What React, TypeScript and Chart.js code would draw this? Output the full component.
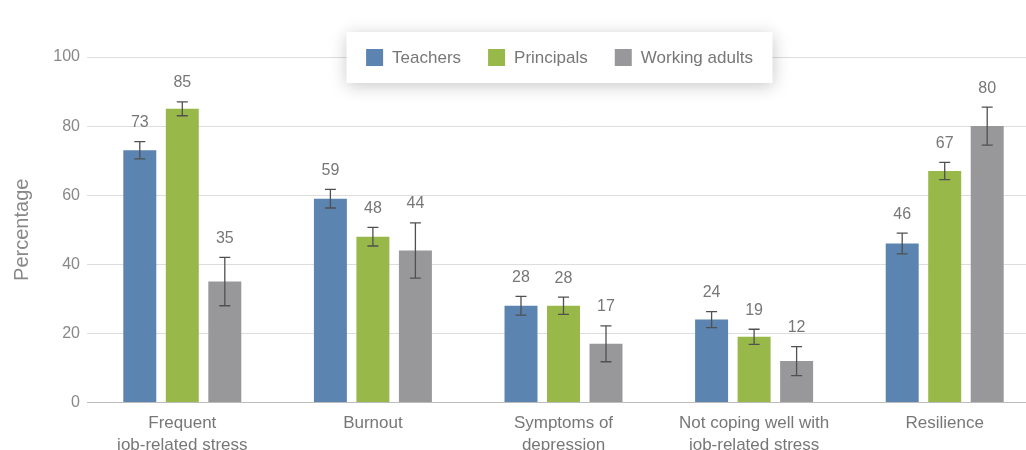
import React, { useEffect, useRef } from "react";
import { Chart, registerables } from "chart.js";
Chart.register(...registerables);

const categories = [
  ["Frequent", "job-related stress"],
  "Burnout",
  ["Symptoms of", "depression"],
  ["Not coping well with", "job-related stress"],
  "Resilience",
];
const seriesNames = ["Teachers", "Principals", "Working adults"];
const teachers = [73, 59, 28, 24, 46];
const principals = [85, 48, 28, 19, 67];
const workingAdults = [35, 44, 17, 12, 80];
const teachersErr = [2.5, 2.7, 2.7, 2.3, 3];
const principalsErr = [2, 2.7, 2.5, 2.2, 2.5];
const workingAdultsErr = [7, 8, 5.2, 4.2, 5.5];
const seriesColors = ["#5b84b1", "#99b84a", "#98989b"];
const yTitle = "Percentage";

const FONT = '"Liberation Sans", Arial, Helvetica, sans-serif';

const errorPlugin = {
  id: "errorBarsLabels",
  afterDatasetsDraw(chart: any) {
    const ctx = chart.ctx;
    const y = chart.scales.y;
    ctx.save();
    chart.data.datasets.forEach((ds: any, di: number) => {
      const meta = chart.getDatasetMeta(di);
      meta.data.forEach((bar: any, i: number) => {
        const v = ds.data[i];
        const e = ds.errors[i];
        const top = y.getPixelForValue(v + e);
        const bot = y.getPixelForValue(v - e);
        const x = bar.x;
        ctx.strokeStyle = "#505050";
        ctx.lineWidth = 1.3;
        ctx.beginPath();
        ctx.moveTo(x, top);
        ctx.lineTo(x, bot);
        ctx.moveTo(x - 5.5, top);
        ctx.lineTo(x + 5.5, top);
        ctx.moveTo(x - 5.5, bot);
        ctx.lineTo(x + 5.5, bot);
        ctx.stroke();
        ctx.fillStyle = "#777";
        ctx.font = "16px " + FONT;
        ctx.textAlign = "center";
        ctx.textBaseline = "middle";
        ctx.fillText(String(v), x, top - 19);
      });
    });
    ctx.restore();
  },
};

const legendPlugin = {
  id: "boxLegend",
  afterDraw(chart: any) {
    const ctx = chart.ctx;
    const area = chart.chartArea;
    ctx.save();
    ctx.font = "17px " + FONT;
    const sq = 17;
    const gapText = 9;
    const gapItem = 27;
    const dsets = chart.data.datasets;
    const widths = dsets.map((d: any) => ctx.measureText(d.label).width);
    let total = 0;
    widths.forEach((w: number, i: number) => {
      total += sq + gapText + w + (i > 0 ? gapItem : 0);
    });
    const cx = (area.left + area.right) / 2 - 4;
    const cy = area.top + 0.5;
    const bw = 426;
    const bh = 51;
    ctx.shadowColor = "rgba(0,0,0,0.22)";
    ctx.shadowBlur = 16;
    ctx.shadowOffsetY = 3;
    ctx.fillStyle = "#fff";
    ctx.fillRect(cx - bw / 2, cy - bh / 2, bw, bh);
    ctx.shadowColor = "transparent";
    ctx.shadowBlur = 0;
    ctx.shadowOffsetY = 0;
    let x = cx - total / 2;
    dsets.forEach((d: any, i: number) => {
      ctx.fillStyle = d.backgroundColor;
      ctx.fillRect(x, cy - sq / 2, sq, sq);
      x += sq + gapText;
      ctx.fillStyle = "#777";
      ctx.textAlign = "left";
      ctx.textBaseline = "middle";
      ctx.fillText(d.label, x, cy + 1);
      x += widths[i] + gapItem;
    });
    ctx.restore();
  },
};

export default function App() {
  const ref = useRef<HTMLCanvasElement>(null);
  useEffect(() => {
    const series = [teachers, principals, workingAdults];
    const errs = [teachersErr, principalsErr, workingAdultsErr];
    const chart = new Chart(ref.current as HTMLCanvasElement, {
      type: "bar",
      data: {
        labels: categories,
        datasets: seriesNames.map((name, i) => ({
          label: name,
          data: series[i],
          errors: errs[i],
          backgroundColor: seriesColors[i],
          borderWidth: 0,
          categoryPercentage: 0.669,
          barPercentage: 0.776,
        })) as any,
      },
      options: {
        responsive: false,
        animation: false,
        devicePixelRatio: 1,
        layout: { padding: { left: 0, right: 20, top: 57, bottom: 0 } },
        plugins: { legend: { display: false }, tooltip: { enabled: false } },
        scales: {
          x: {
            grid: { display: false },
            border: { display: true, color: "#bbb", width: 1 },
            ticks: {
              color: "#777",
              font: { family: FONT, size: 17, lineHeight: "22px" as any },
              padding: 2,
              maxRotation: 0,
              autoSkip: false,
            },
            afterFit: (s: any) => {
              s.height = 47.5;
            },
          },
          y: {
            min: 0,
            max: 100,
            grid: { color: "#ddd", lineWidth: 1, drawTicks: false },
            border: { display: false },
            ticks: {
              stepSize: 20,
              color: "#888",
              font: { family: FONT, size: 16 },
              padding: 7,
            },
            title: {
              display: true,
              text: yTitle,
              color: "#888",
              font: { family: FONT, size: 20 },
              padding: { top: 10, bottom: 0 },
            },
            afterFit: (s: any) => {
              s.width = 87;
            },
          },
        },
      },
      plugins: [errorPlugin, legendPlugin],
    });
    return () => chart.destroy();
  }, []);
  return (
    <div
      style={{
        position: "fixed",
        left: 0,
        top: 0,
        width: 1026,
        height: 450,
        overflow: "hidden",
        background: "#fff",
      }}
    >
      <canvas ref={ref} width={1060} height={450} style={{ display: "block" }} />
    </div>
  );
}
